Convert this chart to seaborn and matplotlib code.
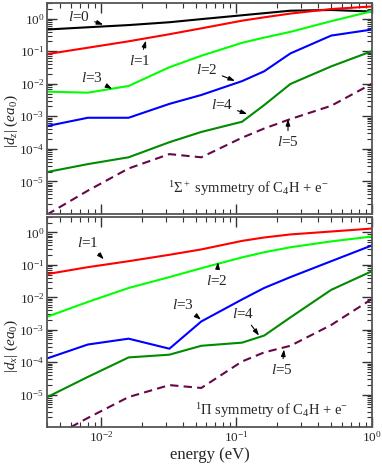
import matplotlib
matplotlib.use("Agg")
import numpy as np
import pandas as pd
import matplotlib.pyplot as plt
import seaborn as sns

# energies (eV) where the curves were sampled
energy = [0.004, 0.008, 0.016, 0.032, 0.055, 0.11, 0.16, 0.25, 0.5, 1.0]

# |d_z| for 1Sigma+ symmetry
sig_l0 = [0.46, 0.54, 0.63, 0.77, 0.96, 1.26, 1.46, 1.74, 1.83, 1.64]
sig_l1 = [0.081, 0.127, 0.20, 0.33, 0.50, 0.86, 1.09, 1.42, 1.96, 2.35]
sig_l2 = [5.0e-4, 9.0e-4, 9.0e-4, 2.4e-3, 4.5e-3, 0.012, 0.024, 0.085, 0.30, 0.46]
sig_l3 = [0.0057, 0.0053, 0.0085, 0.032, 0.072, 0.18, 0.26, 0.39, 0.83, 1.68]
sig_l4 = [1.94e-5, 3.4e-5, 5.5e-5, 1.6e-4, 3.3e-4, 6.8e-4, 2.2e-3, 0.0098, 0.034, 0.10]
sig_l5 = [9.6e-7, 5.2e-6, 2.5e-5, 6.9e-5, 5.5e-5, 2.2e-4, 4.2e-4, 8.2e-4, 2.1e-3, 0.010]

# |d_x| for 1Pi symmetry
pi_l1 = [0.052, 0.085, 0.13, 0.205, 0.30, 0.55, 0.70, 0.87, 1.07, 1.32]
pi_l2 = [0.0025, 0.0072, 0.0194, 0.042, 0.079, 0.17, 0.245, 0.35, 0.53, 0.75]
pi_l3 = [1.3e-4, 3.5e-4, 5.3e-4, 2.6e-4, 1.8e-3, 8.6e-3, 0.0194, 0.042, 0.13, 0.40]
pi_l4 = [8.3e-6, 3.5e-5, 1.4e-4, 1.7e-4, 3.2e-4, 4.0e-4, 6.6e-4, 2.4e-3, 0.017, 0.064]
pi_l5 = [4e-7, 1.9e-6, 8.4e-6, 1.96e-5, 1.6e-5, 1.05e-4, 2.0e-4, 3.2e-4, 1.4e-3, 8.9e-3]

colors = {"0": "black", "1": "#ff0000", "2": "#0000ff", "3": "#00ff00",
          "4": "#008b00", "5": "#670748"}
pi_colors = {"1": "#ff0000", "2": "#00ff00", "3": "#0000ff",
             "4": "#008b00", "5": "#670748"}
dashes = {k: "" for k in "01234"}
dashes["5"] = (4, 2.5)

sig_df = pd.DataFrame({
    "energy": energy * 6,
    "d": sig_l0 + sig_l1 + sig_l2 + sig_l3 + sig_l4 + sig_l5,
    "l": [str(i) for i in range(6) for _ in energy],
})
pi_df = pd.DataFrame({
    "energy": energy * 5,
    "d": pi_l1 + pi_l2 + pi_l3 + pi_l4 + pi_l5,
    "l": [str(i) for i in range(1, 6) for _ in energy],
})

sns.set_style("ticks")
plt.rcParams["font.family"] = ["Liberation Serif", "DejaVu Serif"]
plt.rcParams["mathtext.fontset"] = "custom"
plt.rcParams["mathtext.rm"] = "Liberation Serif"
plt.rcParams["mathtext.it"] = "Liberation Serif:italic"
plt.rcParams["mathtext.bf"] = "Liberation Serif:bold"

fig = plt.figure(figsize=(3.82, 4.67), dpi=100)
ax1 = fig.add_axes([47 / 382, 1 - 214 / 467, 325 / 382, 211 / 467])
ax2 = fig.add_axes([47 / 382, 1 - 427 / 467, 325 / 382, 210 / 467])

sns.lineplot(data=sig_df, x="energy", y="d", hue="l", style="l",
             palette=colors, dashes=dashes, linewidth=1.5, legend=False, ax=ax1)
sns.lineplot(data=pi_df, x="energy", y="d", hue="l", style="l",
             palette=pi_colors, dashes={k: dashes[k] for k in "12345"},
             linewidth=1.5, legend=False, ax=ax2)

for ax in (ax1, ax2):
    ax.set_xscale("log")
    ax.set_yscale("log")
    ax.set_xlim(0.004, 1.0)
    ax.set_ylim(1e-6, 3)
    ax.set_yticks([1e-5, 1e-4, 1e-3, 1e-2, 1e-1, 1])
    ax.yaxis.set_minor_locator(matplotlib.ticker.LogLocator(base=10, subs=np.arange(2, 10)))
    ax.xaxis.set_minor_locator(matplotlib.ticker.LogLocator(base=10, subs=np.arange(2, 10)))
    ax.tick_params(which="both", direction="in", top=True, right=True,
                   labelsize=9.5, pad=2, color="#333333")
    ax.tick_params(which="major", length=7, width=1)
    ax.tick_params(which="minor", length=3.5, width=0.8)
    for s in ax.spines.values():
        s.set_color("#555555")
        s.set_linewidth(1.3)
    ax.set_xlabel("")

ax1.tick_params(labelbottom=False)
ax1.set_ylabel(r"$|d_z|\ (ea_0)$", fontsize=11)
ax2.set_ylabel(r"$|d_x|\ (ea_0)$", fontsize=11)
ax1.yaxis.set_label_coords(-0.082, 0.44)
ax2.yaxis.set_label_coords(-0.082, 0.385)
ax2.set_xlabel("energy (eV)", fontsize=12, labelpad=2)

arrow = dict(arrowstyle="-|>,head_length=0.35,head_width=0.12", color="black",
             lw=0.8, shrinkA=1, shrinkB=0)
afs = 11

# labels for the 1Sigma+ panel: (text, text pos, arrow tip)
sig_notes = [
    ("0", (0.0069, 1.15), (0.0104, 0.65)),
    ("1", (0.0194, 0.05), (0.0215, 0.21)),
    ("3", (0.0086, 0.0151), (0.0121, 0.0069)),
    ("2", (0.0605, 0.0267), (0.0975, 0.0122)),
    ("4", (0.078, 0.0022), (0.12, 0.00117)),
    ("5", (0.24, 1.6e-4), (0.24, 8.2e-4)),
]
for l, txt, tip in sig_notes:
    ax1.annotate(r"$l$=" + l, xy=tip, xytext=txt, ha="center", va="center",
                 fontsize=afs, arrowprops=arrow)

pi_notes = [
    ("1", (0.008, 0.49), (0.0105, 0.149)),
    ("2", (0.0718, 0.0318), (0.073, 0.121)),
    ("3", (0.0403, 0.0059), (0.0547, 0.00204)),
    ("4", (0.1117, 0.0031), (0.1466, 6.6e-4)),
    ("5", (0.217, 5.6e-5), (0.224, 2.46e-4)),
]
for l, txt, tip in pi_notes:
    ax2.annotate(r"$l$=" + l, xy=tip, xytext=txt, ha="center", va="center",
                 fontsize=afs, arrowprops=arrow)

ax1.text(0.372, 0.10, r"$^1\Sigma^+$" + " symmetry of C$_4$H + e$^{-}$",
         transform=ax1.transAxes, fontsize=10.5, ha="left", va="baseline")
ax2.text(0.455, 0.057, r"$^1\Pi$ symmetry of C$_4$H + e$^{-}$",
         transform=ax2.transAxes, fontsize=10.5, ha="left", va="baseline")

fig.savefig("out.png", dpi=100)
